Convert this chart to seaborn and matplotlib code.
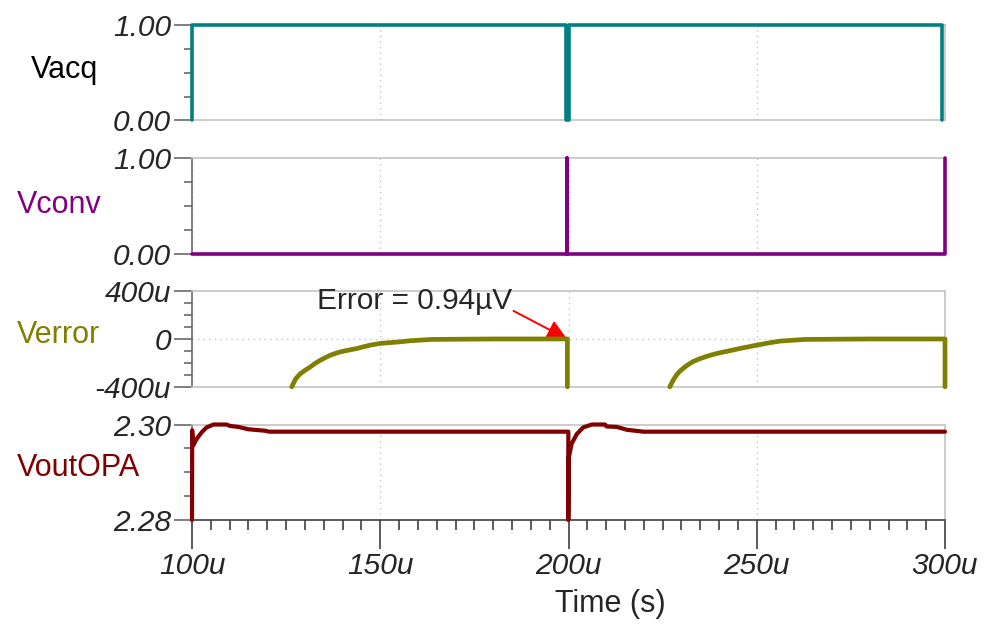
import pandas as pd
import seaborn as sns
import numpy as np
import matplotlib.pyplot as plt
import matplotlib.ticker as ticker

sns.set_style(style='white')
plt.rcParams['font.family'] = ['Liberation Sans', 'DejaVu Sans']

# time axis in microseconds
x_major_ticks = [100, 150, 200, 250, 300]
x_tick_labels = ['100u', '150u', '200u', '250u', '300u']

# Vacq (V)
acq_t = [100, 100, 199.25, 199.25, 200.05, 200.05, 299.2, 299.2]
acq_v = [0, 1, 1, 0, 0, 1, 1, 0]

# Vconv (V)
conv_t = [100, 199.7, 199.7, 199.7, 300, 300]
conv_v = [0, 0, 1, 0, 0, 1]

# Verror (uV), two settling segments
err1_t = [126.5, 127.5, 128.7, 130.0, 131.3, 132.6, 134.0, 135.3, 136.7, 138.0, 139.3, 141.5, 143.8,
          145.5, 147.3, 149.9, 152.5, 155.2, 158.0, 163.7, 180.0, 199.7, 199.7]
err1_v = [-400, -335, -292, -262, -236, -206, -179, -157, -136, -121, -108, -93, -79,
          -65, -51, -37, -30, -23, -14, -3, 0.94, 0.94, -400]
err2_t = [226.9, 227.8, 228.7, 229.6, 231.4, 233.0, 234.9, 236.6, 238.5, 240.2, 242.0, 245.5, 250.0,
          253.0, 256.2, 262.8, 280.0, 300.0, 300.0]
err2_v = [-400, -345, -300, -268, -222, -190, -164, -146, -128, -115, -103, -79, -51,
          -33, -17, -3, 0.94, 0.94, -400]

# VoutOPA (V)
out_t = [100, 100.05, 100.3, 101.25, 102.6, 103.9, 105.7, 109.2, 110.1, 112.3, 115.0, 119.4, 120.5,
         199.95, 199.95, 200.1, 200.85, 202.2, 203.9, 206.2, 209.7, 210.1, 212.8, 215.5, 219.9, 300]
out_v = [2.2800, 2.2988, 2.2956, 2.2970, 2.2984, 2.2994, 2.3000, 2.3000, 2.2997, 2.2995, 2.2990, 2.2987, 2.2985,
         2.2985, 2.2800, 2.2932, 2.2960, 2.2980, 2.2994, 2.3000, 2.3000, 2.2996, 2.2995, 2.2989, 2.2985, 2.2985]

TEAL = '#008080'
PURPLE = '#800080'
OLIVE = '#808000'
MAROON = '#800000'
FRAME = '#c4c4c4'
AXIS = '#6a6a6a'
FS = 21.5
LFS = 22

fig, axs = plt.subplots(nrows=4, figsize=(10, 6.4), dpi=100, sharex=True)
fig.subplots_adjust(left=0.192, right=0.945, top=0.961, bottom=0.1875, hspace=0.395)

line_kw = dict(estimator=None, sort=False, clip_on=False, legend=False, zorder=4)
sns.lineplot(x=acq_t, y=acq_v, ax=axs[0], color=TEAL, linewidth=2.6, **line_kw)
sns.lineplot(x=conv_t, y=conv_v, ax=axs[1], color=PURPLE, linewidth=2.6, **line_kw)
for t, v in [(err1_t, err1_v), (err2_t, err2_v)]:
    sns.lineplot(x=t, y=v, ax=axs[2], color=OLIVE, linewidth=3.4, **line_kw)
sns.lineplot(x=out_t, y=out_v, ax=axs[3], color=MAROON, linewidth=3.0, **line_kw)

y_setup = [
    ((0, 1), [0, 1], ['0.00', '1.00'], [0.25, 0.5, 0.75]),
    ((0, 1), [0, 1], ['0.00', '1.00'], [0.25, 0.5, 0.75]),
    ((-400, 400), [-400, 0, 400], ['-400u', '0', '400u'], [-300, -200, -100, 100, 200, 300]),
    ((2.28, 2.30), [2.28, 2.30], ['2.28', '2.30'], [2.285, 2.29, 2.295]),
]

for ix, ax in enumerate(axs):
    lim, major, labels, minor = y_setup[ix]
    ax.set_xlim(100, 300)
    ax.set_ylim(*lim)
    ax.set_yticks(major)
    ax.set_yticklabels(labels, fontsize=FS, style='italic')
    ax.set_yticks(minor, minor=True)
    ax.tick_params(axis='y', which='major', length=13, width=1.2, color=AXIS, pad=2, left=True)
    ax.tick_params(axis='y', which='minor', length=6, width=1.2, color=AXIS, left=True)
    ax.set_xticks(x_major_ticks)
    ax.xaxis.set_minor_locator(ticker.MultipleLocator(5))
    ax.xaxis.grid(True, which='major', linestyle=(0, (1, 3)), color=FRAME, linewidth=1)
    ax.set_ylabel('')
    ax.set_xlabel('')
    for side in ['top', 'right', 'bottom']:
        ax.spines[side].set_color(FRAME)
        ax.spines[side].set_linewidth(1.2)
    ax.spines['left'].set_color(AXIS)
    ax.spines['left'].set_linewidth(1.2)
    if ix < 3:
        ax.tick_params(axis='x', which='both', bottom=False, labelbottom=False)

axs[2].axhline(0, linestyle=(0, (1, 3)), color=FRAME, linewidth=1, zorder=0)

bottom = axs[3]
bottom.spines['bottom'].set_color('#404040')
bottom.set_xticklabels(x_tick_labels, fontsize=FS, style='italic')
bottom.tick_params(axis='x', which='major', length=21, width=1.2, color='#404040', pad=2, bottom=True)
bottom.tick_params(axis='x', which='minor', length=7, width=1.2, color='#404040', bottom=True)

# channel names
names = [('Vacq', 'black', 0.031, 70), ('Vconv', PURPLE, 0.017, 205),
         ('Verror', OLIVE, 0.017, 335), ('VoutOPA', MAROON, 0.017, 468)]
for name, color, xpos, ypix in names:
    fig.text(xpos, 1 - ypix / 640, name, color=color, fontsize=LFS, ha='left', va='center')

fig.text(0.61, 1 - 604 / 640, 'Time (s)', fontsize=LFS, ha='center', va='center')

# error annotation
axs[2].text(185.0, 320, 'Error = 0.94\u00b5V', fontsize=FS, ha='right', va='center', clip_on=False)
axs[2].annotate('', xy=(199.6, 2), xytext=(185.4, 236), annotation_clip=False,
                arrowprops=dict(arrowstyle='-|>', color='red', lw=1.4, mutation_scale=30,
                                shrinkA=0, shrinkB=0))

fig.savefig('out.png', dpi=100)
